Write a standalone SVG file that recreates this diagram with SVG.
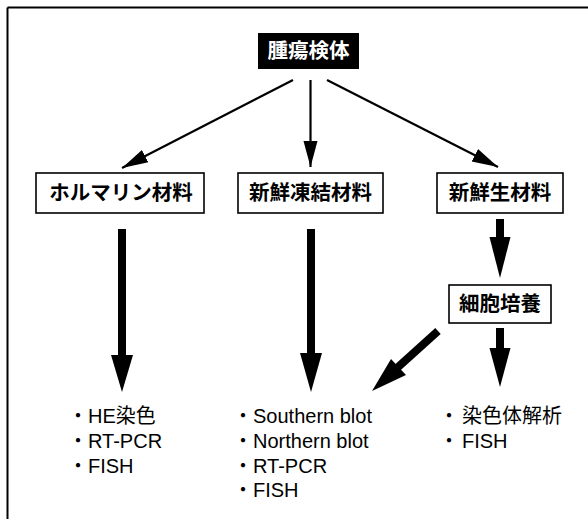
<svg xmlns="http://www.w3.org/2000/svg" width="588" height="519" viewBox="0 0 588 519">
<style>
.box{fill:#fff;stroke:#000;stroke-width:1.6}
.lbl{font-family:"Noto Sans CJK JP","Liberation Sans",sans-serif;font-weight:bold;font-size:20.5px;text-anchor:middle;fill:#000}
.item{font-family:"Liberation Sans","Noto Sans CJK JP",sans-serif;font-size:20px;fill:#000}
.thin{stroke:#000;stroke-width:2.2;fill:none}
.thick{stroke:#000;stroke-width:8;fill:none}
.head{fill:#000}
</style>
<defs>
<marker id="ah" markerUnits="userSpaceOnUse" markerWidth="28" markerHeight="18" refX="26" refY="8" orient="auto" viewBox="0 0 28 16">
<path d="M0,1 L26,8 L0,15 Z" fill="#000"/>
</marker>
</defs>
<rect width="588" height="519" fill="#fff"/>
<g id="frame">
<line x1="7.5" y1="7.5" x2="588" y2="7.5" stroke="#000" stroke-width="2"/>
<line x1="7.5" y1="7.5" x2="7.5" y2="519" stroke="#000" stroke-width="2"/>
</g>
<g id="connectors">
<line class="thin" x1="293" y1="80" x2="122" y2="168" marker-end="url(#ah)"/>
<line class="thin" x1="310.5" y1="80" x2="310.5" y2="167" marker-end="url(#ah)"/>
<line class="thin" x1="327" y1="80" x2="498" y2="167" marker-end="url(#ah)"/>
<line class="thick" x1="122" y1="229" x2="122" y2="357"/>
<polygon class="head" points="111,355 133,355 122,392"/>
<line class="thick" x1="311" y1="229" x2="311" y2="355"/>
<polygon class="head" points="300,353 322,353 311,392"/>
<line class="thick" x1="500" y1="219" x2="500" y2="239"/>
<polygon class="head" points="489.5,237 510.5,237 500,278"/>
<line class="thick" x1="500" y1="328" x2="500" y2="350"/>
<polygon class="head" points="489.5,348 510.5,348 500,387"/>
<line class="thick" x1="438" y1="331" x2="397" y2="368"/>
<polygon class="head" points="406,375 391,359 372,391"/>
</g>
<g id="n-tumor">
<rect x="258" y="33" width="101" height="36" fill="#000"/>
<text class="lbl" x="308.5" y="58" style="fill:#fff">腫瘍検体</text>
</g>
<g id="n-formalin">
<rect class="box" x="36" y="173" width="168" height="40"/>
<text class="lbl" x="121" y="200">ホルマリン材料</text>
</g>
<g id="n-frozen">
<rect class="box" x="238" y="173" width="145" height="40"/>
<text class="lbl" x="310.5" y="200">新鮮凍結材料</text>
</g>
<g id="n-fresh">
<rect class="box" x="437" y="173" width="126" height="40"/>
<text class="lbl" x="500" y="200">新鮮生材料</text>
</g>
<g id="n-culture">
<rect class="box" x="449" y="285" width="102" height="38"/>
<text class="lbl" x="500" y="311">細胞培養</text>
</g>
<g id="n-list1">
<text class="item" x="78" y="423" text-anchor="middle">・</text>
<text class="item" x="88" y="423">HE染色</text>
<text class="item" x="78" y="448" text-anchor="middle">・</text>
<text class="item" x="88" y="448">RT-PCR</text>
<text class="item" x="78" y="473" text-anchor="middle">・</text>
<text class="item" x="88" y="473">FISH</text>
</g>
<g id="n-list2">
<text class="item" x="243" y="423" text-anchor="middle">・</text>
<text class="item" x="253" y="423">Southern blot</text>
<text class="item" x="243" y="448" text-anchor="middle">・</text>
<text class="item" x="253" y="448">Northern blot</text>
<text class="item" x="243" y="473" text-anchor="middle">・</text>
<text class="item" x="253" y="473">RT-PCR</text>
<text class="item" x="243" y="497" text-anchor="middle">・</text>
<text class="item" x="253" y="497">FISH</text>
</g>
<g id="n-list3">
<text class="item" x="449" y="423" text-anchor="middle">・</text>
<text class="item" x="462" y="423">染色体解析</text>
<text class="item" x="449" y="448" text-anchor="middle">・</text>
<text class="item" x="462" y="448">FISH</text>
</g>
</svg>
